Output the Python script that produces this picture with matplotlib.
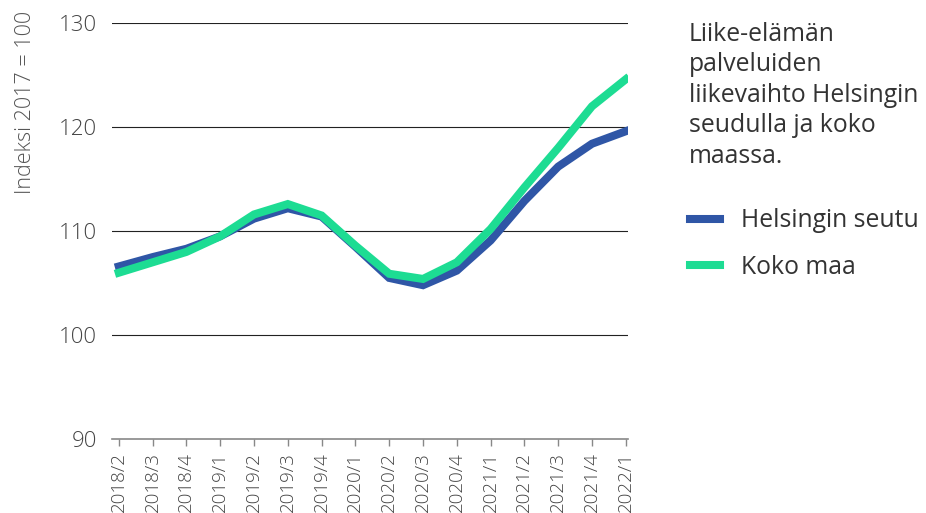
import matplotlib
matplotlib.use("Agg")
import matplotlib.pyplot as plt

plt.rcParams['font.family'] = ['Open Sans', 'DejaVu Sans']

quarters = ['2018/2', '2018/3', '2018/4', '2019/1', '2019/2', '2019/3', '2019/4',
            '2020/1', '2020/2', '2020/3', '2020/4', '2021/1', '2021/2', '2021/3',
            '2021/4', '2022/1']
helsinki = [106.6, 107.5, 108.3, 109.5, 111.2, 112.2, 111.4, 108.5, 105.5, 104.8,
            106.2, 109.1, 112.9, 116.2, 118.4, 119.6]
koko_maa = [106.0, 107.0, 108.0, 109.5, 111.6, 112.6, 111.5, 108.6, 105.9, 105.4,
            107.0, 110.2, 114.2, 118.0, 122.0, 124.6]
yticks = [90, 100, 110, 120, 130]

title = "Liike-elämän\npalveluiden\nliikevaihto Helsingin\nseudulla ja koko\nmaassa."

blue = '#2f56a6'
green = '#1ddc93'
label_gray = '#444444'

fig = plt.figure(figsize=(9.26, 5.13), dpi=100)
ax = fig.add_axes([0.121, 0.144, 0.557, 0.811])

x = range(len(quarters))
ax.plot(x, helsinki, color=blue, lw=5.8, solid_joinstyle='miter', label='Helsingin seutu')
ax.plot(x, koko_maa, color=green, lw=5.8, solid_joinstyle='miter', label='Koko maa')

ax.set_ylim(90, 130)
ax.set_xlim(-0.2, len(quarters) - 0.94)
ax.set_yticks(yticks)
ax.set_xticks(list(x))
ax.set_xticklabels(quarters, rotation=90)

for y in yticks[1:]:
    ax.axhline(y, color='#222222', lw=0.8, zorder=0)

for s in ['top', 'right', 'left']:
    ax.spines[s].set_visible(False)
ax.spines['bottom'].set_color('#888888')
ax.spines['bottom'].set_linewidth(1.2)

ax.tick_params(axis='y', length=0, pad=11, labelsize=16, labelcolor=label_gray)
ax.tick_params(axis='x', length=5, width=1, color='#888888', pad=4,
               labelsize=13.5, labelcolor=label_gray)
for lab in ax.get_xticklabels() + ax.get_yticklabels():
    lab.set_fontweight('light')

fig.text(0.027, 0.978, 'Indeksi 2017 = 100', rotation=90, ha='center', va='top',
         fontsize=15.5, color='#555555', fontweight='light')

fig.text(0.744, 0.958, title, ha='left', va='top', fontsize=17.8,
         color='#333333', linespacing=1.29)

handles, labels = ax.get_legend_handles_labels()
fig.legend(handles, labels, loc='upper left', bbox_to_anchor=(0.745, 0.594),
           frameon=False, fontsize=17.8, labelcolor='#333333', handlelength=1.2,
           handletextpad=0.85, labelspacing=0.88, borderpad=0, borderaxespad=0)

fig.savefig('out.png', dpi=100)
